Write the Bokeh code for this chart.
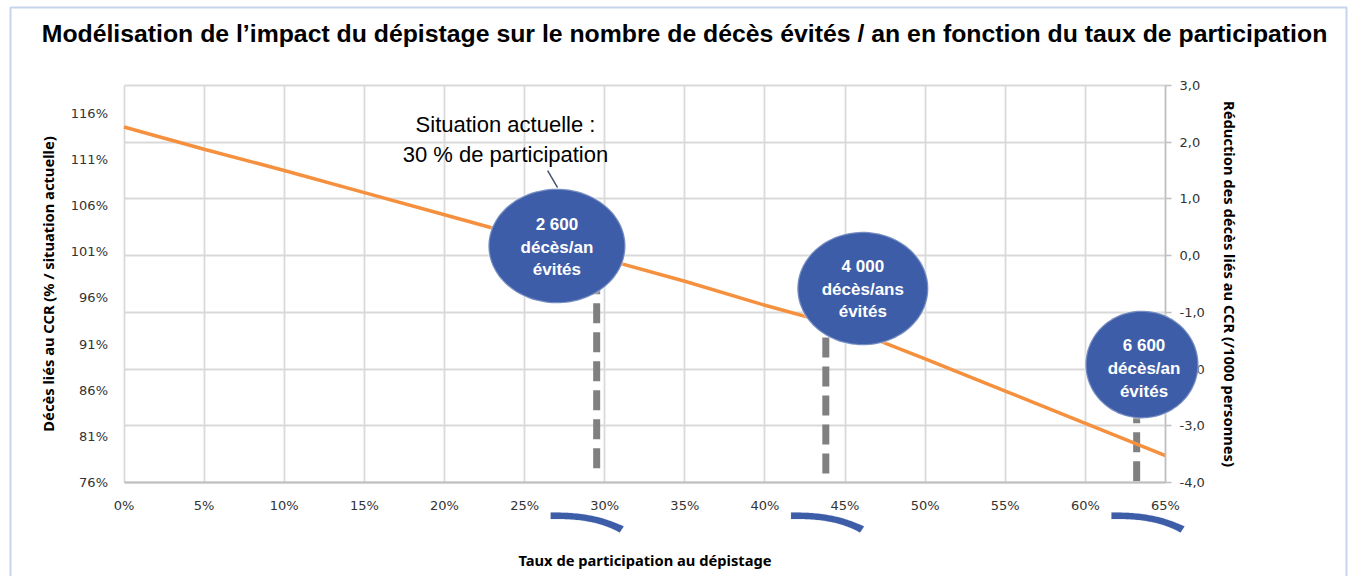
import numpy as np
from bokeh.plotting import figure
from bokeh.models import (Range1d, LinearAxis, FixedTicker, Label, Grid,
                          PolyAnnotation, BoxAnnotation)
from bokeh.embed import file_html
from bokeh.resources import INLINE

# ---------------- data ----------------
participation = [0, 5, 10, 15, 20, 25, 30, 35, 40, 45, 50, 55, 60, 65]
deces_pct = [114.5, 112.1, 109.8, 107.4, 105.0, 102.6, 100.2, 97.8, 95.2,
             92.8, 89.4, 85.9, 82.4, 78.9]

x_ticks = [0, 5, 10, 15, 20, 25, 30, 35, 40, 45, 50, 55, 60, 65]
x_tick_labels = ["0%", "5%", "10%", "15%", "20%", "25%", "30%", "35%",
                 "40%", "45%", "50%", "55%", "60%", "65%"]
left_ticks = [76, 81, 86, 91, 96, 101, 106, 111, 116]
left_tick_labels = ["76%", "81%", "86%", "91%", "96%", "101%", "106%",
                    "111%", "116%"]
right_ticks = [-4, -3, -2, -1, 0, 1, 2, 3]
right_tick_labels = ["-4,0", "-3,0", "-2,0", "-1,0", "0,0", "1,0", "2,0", "3,0"]

bulles_texte = ["2 600\ndécès/an\névités",
                "4 000\ndécès/ans\névités",
                "6 600\ndécès/an\névités"]
marqueurs_x = [29.5, 43.8, 63.2]
scenarios_x = [30, 45, 65]

titre = ("Modélisation de l\u2019impact du dépistage sur le nombre de décès "
         "évités / an en fonction du taux de participation")
situation = "Situation actuelle :\n30 % de participation"

# ---------------- layout constants (pixels) ----------------
W, H = 1349, 576
PL, PR, PT, PB = 123.5, 1165.0, 85.0, 482.0     # plot area
X0, X1 = 0, 65
R0, R1 = -4, 3
L0, L1 = 76, 119
sx = (PR - PL) / (X1 - X0)
sy = (PB - PT) / (R1 - R0)
sp = (PB - PT) / (L1 - L0)

def X(px):
    return X0 + (px - PL) / sx

def Y(py):
    return R1 - (py - PT) / sy

p = figure(frame_width=W, frame_height=H,
           x_range=Range1d(X(0), X(W)), y_range=Range1d(Y(H), Y(0)),
           y_axis_location="right", output_backend="svg",
           toolbar_location=None, min_border=0,
           background_fill_color="white", border_fill_color="white",
           outline_line_color=None)
p.extra_y_ranges = {"pct": Range1d(L0 - (H - PB) / sp, L1 + PT / sp)}

GRID = "#D9D9D9"
AXC = "#BFBFBF"
TICKC = "#333333"
LBL_FONT = "Noto Sans"
LBL_SIZE = "14.7px"

# ---------------- grids (limited to the plot area) ----------------
has_cross = "cross_bounds" in Grid.properties()
p.xgrid.ticker = FixedTicker(ticks=x_ticks)
p.ygrid.ticker = FixedTicker(ticks=right_ticks)
for g in (p.xgrid[0], p.ygrid[0]):
    g.grid_line_color = GRID
    g.grid_line_width = 1.8
if has_cross:
    p.xgrid[0].bounds = (X0, X1)
    p.xgrid[0].cross_bounds = (R0, R1)
    p.ygrid[0].bounds = (R0, R1)
    p.ygrid[0].cross_bounds = (X0, X1)
else:
    p.xgrid[0].visible = False
    p.ygrid[0].visible = False
    p.segment(x0=x_ticks, y0=[R0] * len(x_ticks), x1=x_ticks,
              y1=[R1] * len(x_ticks), line_color=GRID, line_width=1.8)
    p.segment(x0=[X0] * len(right_ticks), y0=right_ticks,
              x1=[X1] * len(right_ticks), y1=right_ticks,
              line_color=GRID, line_width=1.8)

# ---------------- axes ----------------
xa = p.xaxis[0]
xa.fixed_location = R0
xa.bounds = (X0, X1)
xa.ticker = FixedTicker(ticks=x_ticks)
xa.major_label_overrides = {t: l for t, l in zip(x_ticks, x_tick_labels)}
xa.axis_line_color = AXC
xa.axis_line_width = 2
xa.major_tick_line_color = None
xa.minor_tick_line_color = None
xa.major_tick_out = 0
xa.major_tick_in = 0
xa.major_label_standoff = 15
xa.major_label_text_font = "DejaVu Sans"
xa.major_label_text_font_size = "13px"
xa.major_label_text_color = TICKC
xa.axis_label = "Taux de participation au dépistage"
xa.axis_label_text_font = LBL_FONT
xa.axis_label_text_font_style = "bold"
xa.axis_label_text_font_size = LBL_SIZE
xa.axis_label_text_color = "#000000"
xa.axis_label_standoff = 34

ra = p.yaxis[0]
ra.fixed_location = X1
ra.bounds = (R0, R1)
ra.ticker = FixedTicker(ticks=right_ticks)
ra.major_label_overrides = {t: l for t, l in zip(right_ticks, right_tick_labels)}
ra.axis_line_color = AXC
ra.axis_line_width = 1.5
ra.major_tick_line_color = AXC
ra.major_tick_line_width = 1.5
ra.major_tick_out = 6
ra.major_tick_in = 0
ra.minor_tick_line_color = None
ra.major_label_standoff = 8
ra.major_label_text_font = "DejaVu Sans"
ra.major_label_text_font_size = "13px"
ra.major_label_text_color = TICKC
ra.axis_label = "Réduction des décès liés au CCR (/1000 personnes)"
ra.axis_label_text_font = LBL_FONT
ra.axis_label_text_font_style = "bold"
ra.axis_label_text_font_size = LBL_SIZE
ra.axis_label_text_color = "#000000"
ra.axis_label_standoff = 12

la = LinearAxis(y_range_name="pct", ticker=FixedTicker(ticks=left_ticks),
                fixed_location=X0, bounds=(L0, L1))
la.major_label_overrides = {t: l for t, l in zip(left_ticks, left_tick_labels)}
la.axis_line_color = None
la.major_tick_line_color = None
la.minor_tick_line_color = None
la.major_tick_out = 0
la.major_tick_in = 0
la.major_label_standoff = 16
la.major_label_text_font = "DejaVu Sans"
la.major_label_text_font_size = "13px"
la.major_label_text_color = TICKC
la.axis_label = "Décès liés au CCR (% / situation actuelle)"
la.axis_label_text_font = LBL_FONT
la.axis_label_text_font_style = "bold"
la.axis_label_text_font_size = LBL_SIZE
la.axis_label_text_color = "#000000"
la.axis_label_standoff = 10
p.add_layout(la, "left")

# ---------------- bubbles geometry (annotation placement) ----------------
bulles = [  # cx, cy (right-axis units), rx, ry, text x, text y
    (27.02, 0.17, 4.28, 1.01, 27.02, 0.15),
    (46.11, -0.58, 4.09, 1.00, 46.11, -0.59),
    (63.53, -1.92, 3.53, 0.95, 63.66, -1.99),
]
marqueurs_bas = [-3.75, -3.84, -3.98]

# dashed grey markers
p.segment(x0=marqueurs_x, y0=marqueurs_bas, x1=marqueurs_x,
          y1=[b[1] for b in bulles], line_color="#808080", line_width=7,
          line_dash="20 9")

# main curve
p.line(participation, deces_pct, y_range_name="pct",
       line_color="#F5913E", line_width=3.5)

# pointer from text to first bubble
p.segment(x0=[26.44], y0=[1.50], x1=[27.06], y1=[1.20],
          line_color="#44546A", line_width=1.5)

BLUE = "#3D5DA8"
th = np.linspace(0, 2 * np.pi, 120)
for (cx, cy, rx, ry, tx, ty), txt in zip(bulles, bulles_texte):
    p.add_layout(PolyAnnotation(xs=list(cx + rx * np.cos(th)),
                                ys=list(cy + ry * np.sin(th)),
                                fill_color=BLUE, fill_alpha=1.0,
                                line_color="white", line_width=2.5))
    p.add_layout(Label(x=tx, y=ty, text=txt, text_align="center",
                       text_baseline="middle", text_color="white",
                       text_font="Liberation Sans", text_font_style="bold",
                       text_font_size="17px", text_line_height=1.2))

# "Situation actuelle" text
p.add_layout(Label(x=X(505), y=Y(138.5), text=situation, text_align="center",
                   text_baseline="middle", text_color="#000000",
                   text_font="Liberation Sans", text_font_size="22px",
                   text_line_height=1.2))

# blue swooshes under scenario tick labels
t = np.linspace(0, 1, 40)
for s in scenarios_x:
    xt = s + (-54 + 73 * t) / sx
    yt_px = PB + 30 + 14 * t ** 2.5
    xb = s + (-54 + 73 * t - 4 * t ** 3) / sx
    yb_px = yt_px + 6.5 - 0.5 * t
    xs = list(xt) + list(xb[::-1])
    ys = [Y(v) for v in yt_px] + [Y(v) for v in yb_px[::-1]]
    p.add_layout(PolyAnnotation(xs=xs, ys=ys, fill_color=BLUE, fill_alpha=1.0,
                                line_color=BLUE, line_width=0.5))

# title
p.add_layout(Label(x=X(684), y=Y(33), text=titre, text_align="center",
                   text_baseline="middle", text_color="#000000",
                   text_font="Liberation Sans", text_font_style="bold",
                   text_font_size="24.8px"))

# outer blue frame
p.add_layout(BoxAnnotation(left=X(10), right=X(1346), top=Y(7), bottom=Y(620),
                           fill_alpha=0, fill_color=None,
                           line_color="#4472C4", line_width=2))

open("out.html", "w").write(file_html(p, INLINE))
